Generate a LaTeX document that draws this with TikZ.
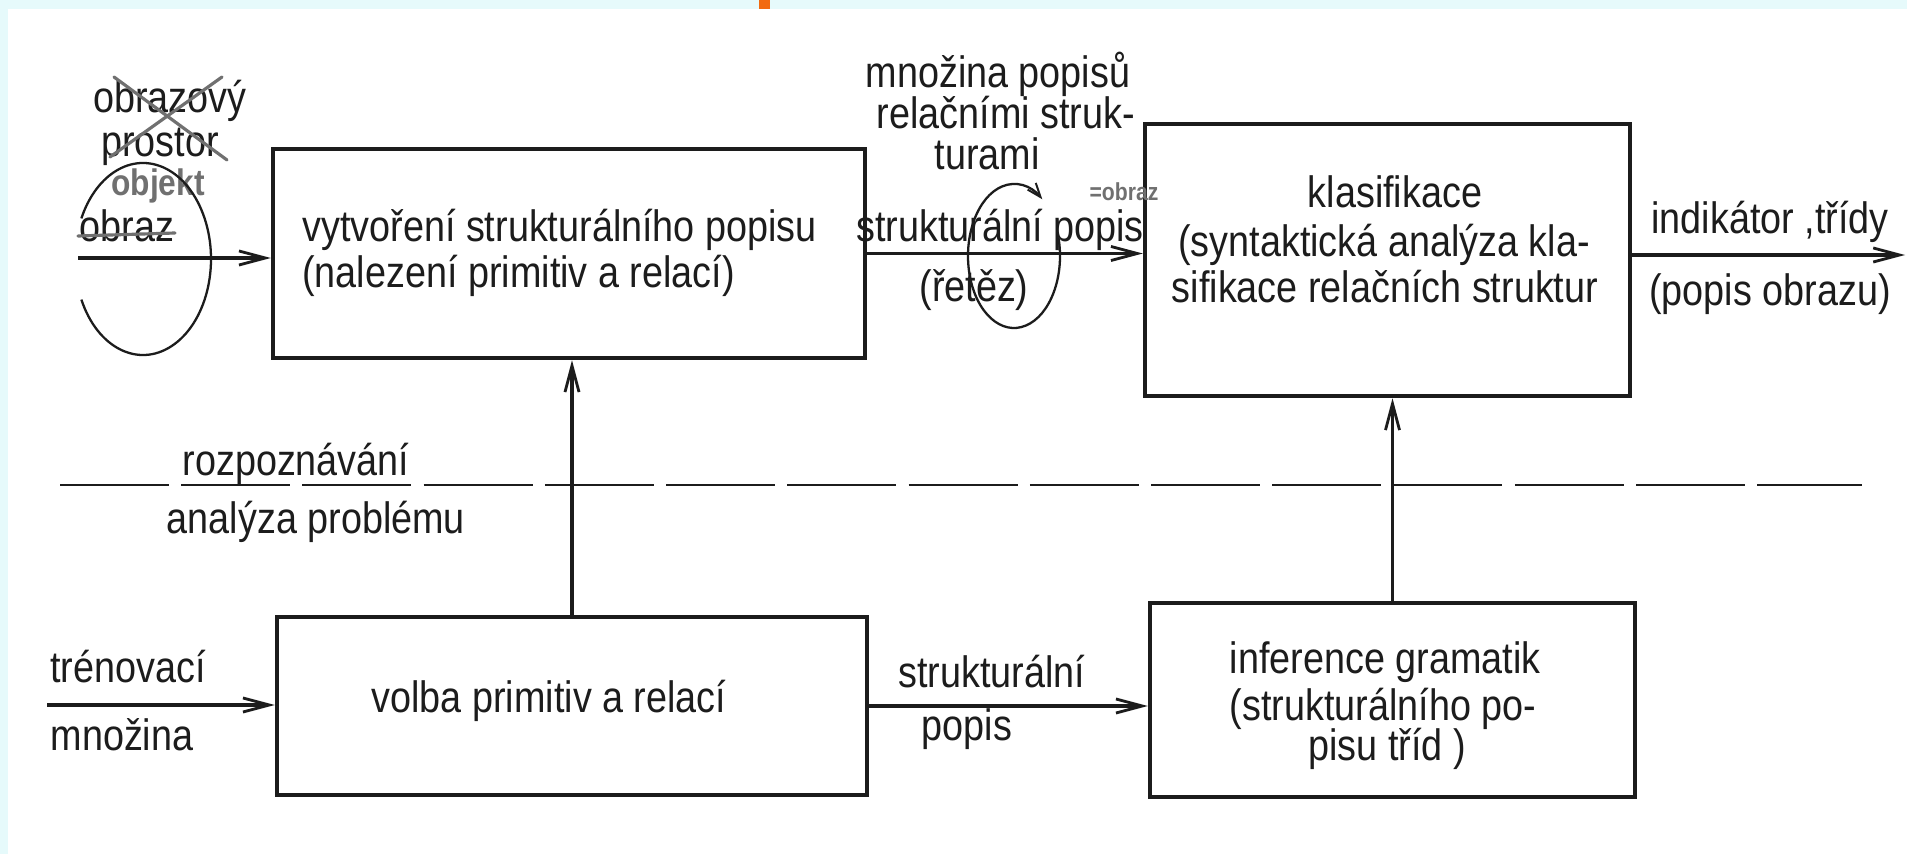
\documentclass[tikz,border=0pt]{standalone}
\usepackage{fontspec}
\setmainfont[FakeStretch=0.86]{Liberation Sans}
\usetikzlibrary{arrows.meta}
\definecolor{bgcyan}{HTML}{E6FAFB}
\definecolor{pencil}{HTML}{707070}
\definecolor{ink}{HTML}{1C1C1C}
\definecolor{tab}{HTML}{F26A10}
\begin{document}
\begin{tikzpicture}[x=0.02cm,y=-0.02cm,
  box/.style={draw=ink, line width=2.6pt, inner sep=0pt, rectangle},
  lbl/.style={inner sep=0pt, text=ink, font=\fontsize{25}{28}\selectfont},
  pen/.style={inner sep=0pt, text=pencil, font=\bfseries\fontsize{21}{24}\selectfont},
  arr/.style={draw=ink, line width=2.2pt, -{Straight Barb[length=15pt,width=8pt,line width=1.6pt]}},
  loop/.style={draw=ink, line width=1.3pt},
  cross/.style={draw=pencil, line width=1.8pt, line cap=round},
  sep/.style={draw=ink, line width=1.3pt, dash pattern=on 62pt off 7pt}]
\useasboundingbox (0,0) rectangle (1907,854);
\fill[bgcyan] (0,0) rectangle (1907,854);
\fill[white] (8,9) rectangle (1907,854);
\fill[tab] (759,0) rectangle (770,9);

% boxes
\node[box, minimum width=11.84cm, minimum height=4.18cm] (b1) at (569,253.5) {};
\node[box, minimum width=9.7cm, minimum height=5.44cm] (b2) at (1387.5,260) {};
\node[box, minimum width=11.8cm, minimum height=3.56cm] (b3) at (572,706) {};
\node[box, minimum width=9.7cm, minimum height=3.88cm] (b4) at (1392.5,700) {};

% box texts
\node[lbl, anchor=base west] (t1a) at (302,242) {vytvoření strukturálního popisu};
\node[lbl, anchor=base west] (t1b) at (302,288) {(nalezení primitiv a relací)};
\node[lbl, anchor=base] (k1) at (1395,208) {klasifikace};
\node[lbl, anchor=base] (k2) at (1384,257) {(syntaktická analýza kla-};
\node[lbl, anchor=base] (k3) at (1385,303) {sifikace relačních struktur};
\node[lbl, anchor=base] (v1) at (549,712) {volba primitiv a relací};
\node[lbl, anchor=base] (i1) at (1385,673) {inference gramatik};
\node[lbl, anchor=base] (i2) at (1383,720) {(strukturálního po-};
\node[lbl, anchor=base] (i3) at (1387,760) {pisu tříd )};

% connector labels
\node[lbl, anchor=base] (m1) at (998,88) {množina popisů};
\node[lbl, anchor=base] (m2) at (1006,129) {relačními struk-};
\node[lbl, anchor=base] (m3) at (987,170) {turami};
\node[lbl, anchor=base] (s1) at (1000,242) {strukturální popis};
\node[lbl, anchor=base] (s2) at (974,302) {(řetěz)};
\node[lbl, anchor=base] (o1) at (1770,234) {indikátor ,třídy};
\node[lbl, anchor=base] (o2) at (1770,306) {(popis obrazu)};
\node[lbl, anchor=base] (r1) at (296,476) {rozpoznávání};
\node[lbl, anchor=base] (r2) at (316,534) {analýza problému};
\node[lbl, anchor=base] (n1) at (128,682) {trénovací};
\node[lbl, anchor=base] (n2) at (122,750) {množina};
\node[lbl, anchor=base] (p1) at (992,687) {strukturální};
\node[lbl, anchor=base] (p2) at (967,740) {popis};
\node[lbl, anchor=base] (x1) at (170,113) {obrazový};
\node[lbl, anchor=base] (x2) at (160,157) {prostor};
\node[lbl, anchor=base] (x3) at (127,242) {obraz};

% pencil corrections
\node[pen] (g1) at (158,186) {objekt};
\node[pen, font=\bfseries\fontsize{14}{16}\selectfont] (g2) at (1124,192) {=obraz};
\draw[cross] (114,77) -- (227,160);
\draw[cross] (110,157) -- (222,77);
\draw[cross] (78,236) -- (175,233);

% free ends
\coordinate (in1) at (78,258);
\coordinate (out) at (1905,255);
\coordinate (in3) at (47,705);
\coordinate (dl) at (60,485);
\coordinate (dr) at (1862,485);

% connectors
\draw[arr] (in1) -- (in1 -| b1.west);
\draw[arr] (b1.east) -- (b1.east -| b2.west);
\draw[arr] (b2.east |- out) -- (out);
\draw[arr] (in3) -- (in3 -| b3.west);
\draw[arr] (b3.east) -- (b3.east -| b4.west);
\draw[arr] (b3.north) -- (b3.north |- b1.south);
\draw[arr] (b4.north) -- (b4.north |- b2.south);

% separator
\draw[sep] (dl) -- (dr);

% loops
\draw[loop] (143,259) ++(155:68 and 96) arc[start angle=155, end angle=-155, x radius=68, y radius=96];
\draw[loop, -{Straight Barb[length=8pt,width=6pt,line width=1.1pt]}] (1014,256) ++(-15:46 and 72) arc[start angle=-15, end angle=308, x radius=46, y radius=72];
\end{tikzpicture}
\end{document}
